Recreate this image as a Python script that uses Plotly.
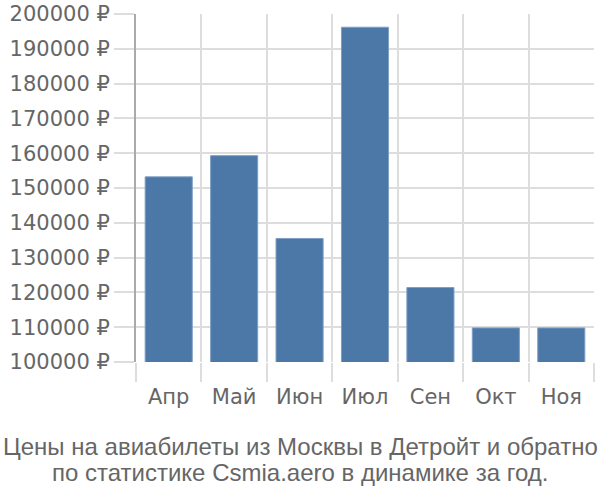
import plotly.graph_objects as go

months = ["Апр", "Май", "Июн", "Июл", "Сен", "Окт", "Ноя"]
prices = [153200, 159300, 135500, 196200, 121400, 109800, 109800]
title_lines = ["Цены на авиабилеты из Москвы в Детройт и обратно",
               "по статистике Csmia.aero в динамике за год."]

W, H = 600, 500
L, R, T, B = 136, 6, 14, 138
plot_w = W - L - R
plot_h = H - T - B

fig = go.Figure()
fig.add_trace(go.Bar(
    x=months, y=prices,
    marker=dict(color="#4c78a8", line=dict(color="#7f9fc6", width=1)),
    width=0.72,
))

font = dict(family="DejaVu Sans, sans-serif", size=21, color="#666666")
title_font = dict(family="Liberation Sans, Arial, sans-serif", size=24, color="#666666")

annotations = []
for i, (line, py) in enumerate(zip(title_lines, [446, 472])):
    annotations.append(dict(
        text=line,
        xref="paper", yref="paper",
        x=(300 - L) / plot_w, y=(H - B - py) / plot_h,
        xanchor="center", yanchor="middle", showarrow=False,
        font=title_font,
    ))

fig.update_layout(
    width=W, height=H,
    margin=dict(l=L, r=R, t=T, b=B),
    paper_bgcolor="white", plot_bgcolor="white",
    showlegend=False,
    font=font,
    xaxis=dict(
        type="category",
        tickson="boundaries",
        ticks="outside", ticklen=19, tickcolor="#dddddd", tickwidth=2,
        showgrid=True, gridcolor="#dddddd", gridwidth=2,
        showline=False,
        tickfont=font,
        ticklabelstandoff=20,
        automargin=False,
    ),
    yaxis=dict(
        range=[100000, 200000],
        dtick=10000, tickformat="d", ticksuffix=" ₽",
        ticks="outside", ticklen=20, tickcolor="#dddddd", tickwidth=2,
        showgrid=True, gridcolor="#dddddd", gridwidth=2,
        showline=True, linecolor="#aaaaaa", linewidth=2,
        zeroline=False,
        tickfont=font,
        automargin=False,
    ),
    annotations=annotations,
)

fig.write_html("out.html", config={"displayModeBar": False},
               post_script="document.body.style.margin='0';")
